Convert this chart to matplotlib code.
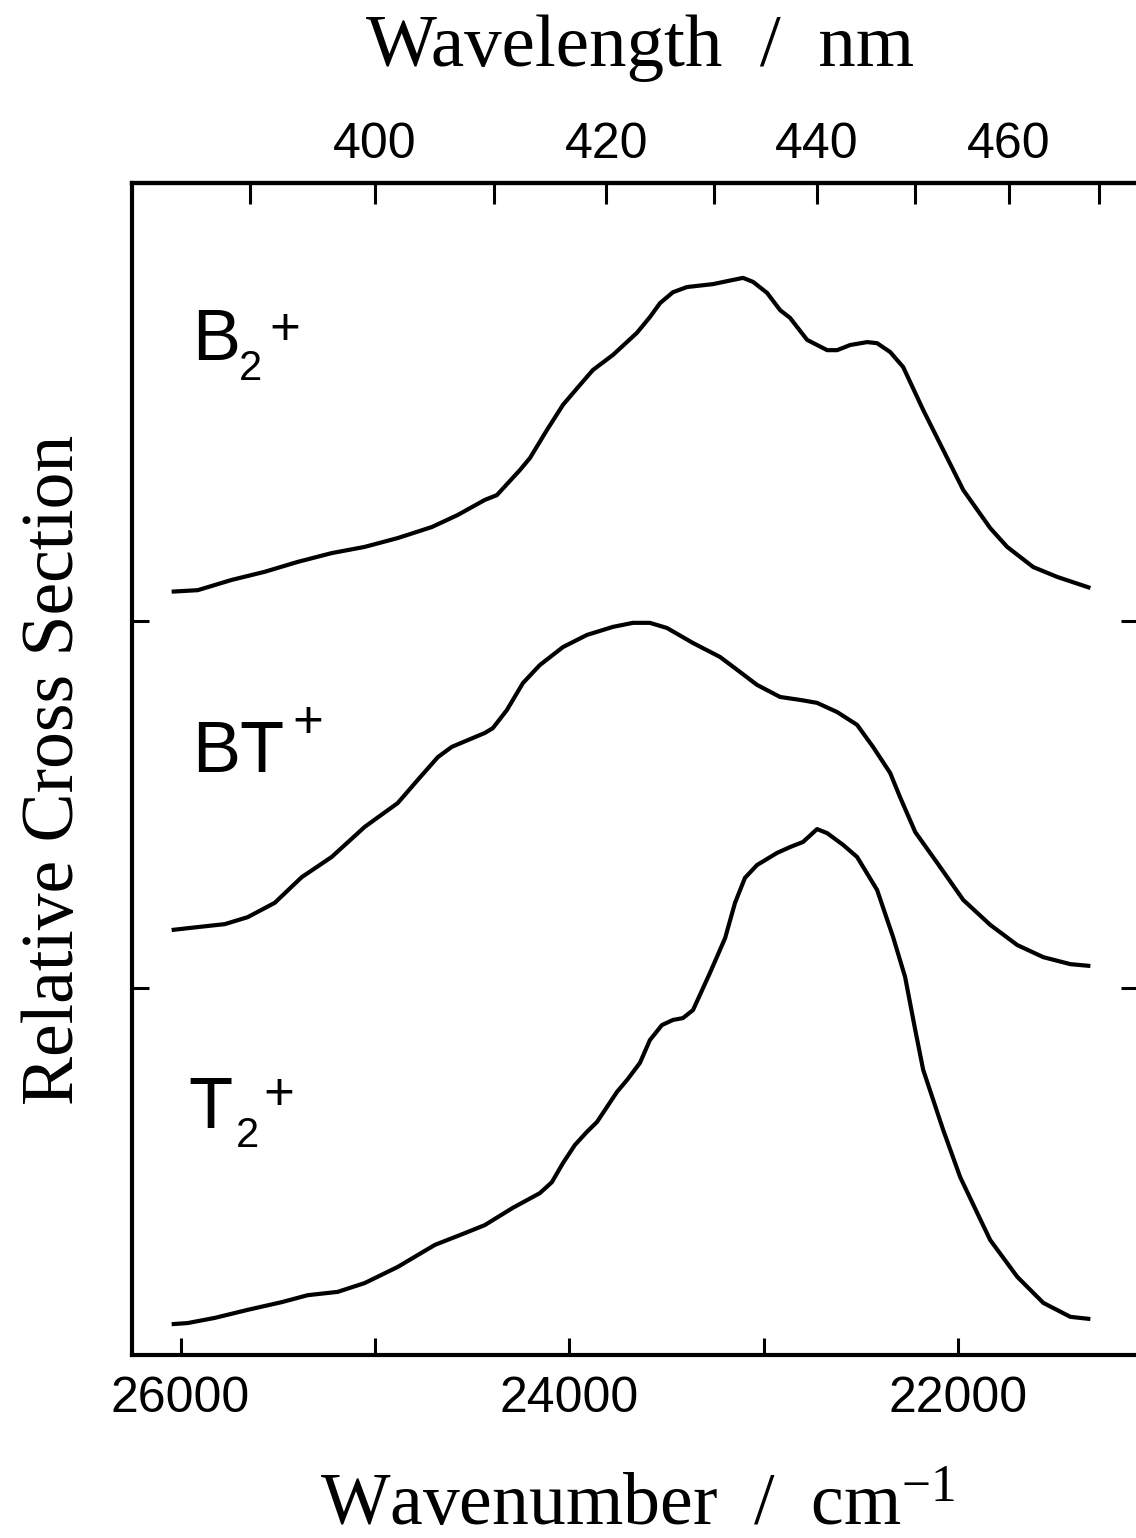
import numpy as np
import matplotlib
matplotlib.use('Agg')
import matplotlib.pyplot as plt
from matplotlib.ticker import FixedLocator, NullFormatter

# ---------------- data (wavenumber / cm-1, offset relative cross section) ----------------
b2_wn = [26046, 25912, 25737, 25568, 25398, 25223, 25053, 24883, 24708, 24574,
         24435, 24373, 24255, 24203, 24116, 24033, 23946, 23879, 23776, 23653,
         23586, 23534, 23467, 23395, 23261, 23189, 23107, 23055, 22983, 22916,
         22865, 22777, 22674, 22623, 22556, 22468, 22417, 22350, 22283, 22180,
         22077, 21974, 21835, 21748, 21614, 21490, 21320]
b2_y = [2.080, 2.084, 2.112, 2.134, 2.161, 2.185, 2.202, 2.226, 2.256, 2.289,
        2.330, 2.343, 2.411, 2.444, 2.520, 2.589, 2.643, 2.684, 2.725, 2.785,
        2.828, 2.866, 2.896, 2.910, 2.918, 2.926, 2.935, 2.924, 2.894, 2.847,
        2.826, 2.766, 2.738, 2.738, 2.752, 2.760, 2.757, 2.733, 2.692, 2.575,
        2.466, 2.357, 2.253, 2.202, 2.147, 2.120, 2.090]

bt_wn = [26046, 25912, 25773, 25655, 25516, 25377, 25223, 25053, 24883, 24780,
         24677, 24605, 24435, 24394, 24322, 24239, 24152, 24033, 23910, 23776,
         23673, 23586, 23498, 23364, 23225, 23122, 23035, 22916, 22813, 22726,
         22623, 22520, 22438, 22350, 22299, 22221, 22108, 21974, 21835, 21696,
         21562, 21423, 21320]
bt_y = [1.158, 1.166, 1.174, 1.193, 1.232, 1.302, 1.357, 1.439, 1.504, 1.567,
        1.629, 1.657, 1.695, 1.708, 1.757, 1.831, 1.880, 1.929, 1.962, 1.984,
        1.995, 1.995, 1.981, 1.940, 1.902, 1.861, 1.826, 1.793, 1.785, 1.777,
        1.752, 1.717, 1.657, 1.586, 1.520, 1.425, 1.341, 1.240, 1.172, 1.117,
        1.084, 1.065, 1.060]

t2_wn = [26046, 25964, 25825, 25655, 25480, 25346, 25192, 25053, 24883, 24692,
         24538, 24435, 24291, 24152, 24090, 24033, 23972, 23910, 23858, 23755,
         23704, 23637, 23586, 23524, 23467, 23416, 23364, 23277, 23199, 23148,
         23097, 23035, 22932, 22865, 22798, 22726, 22674, 22592, 22520, 22417,
         22335, 22273, 22221, 22180, 22077, 21990, 21902, 21835, 21696, 21562,
         21423, 21320]
t2_y = [0.084, 0.087, 0.101, 0.123, 0.144, 0.163, 0.172, 0.196, 0.240, 0.300,
        0.332, 0.354, 0.401, 0.441, 0.471, 0.523, 0.572, 0.608, 0.635, 0.717,
        0.749, 0.796, 0.858, 0.899, 0.913, 0.918, 0.940, 1.041, 1.136, 1.232,
        1.300, 1.335, 1.368, 1.384, 1.398, 1.433, 1.422, 1.390, 1.357, 1.267,
        1.139, 1.030, 0.886, 0.777, 0.613, 0.485, 0.387, 0.313, 0.213, 0.142,
        0.104, 0.098]

bottom_major = [26000, 24000, 22000]
bottom_minor = [25000, 23000]
top_major = [400, 420, 440, 460]
top_minor = [390, 410, 430, 450, 470]
y_ticks = [1, 2]

# ---------------- figure ----------------
plt.rcParams['font.family'] = ['Liberation Sans', 'DejaVu Sans']
plt.rcParams['mathtext.fontset'] = 'custom'
plt.rcParams['mathtext.rm'] = 'Liberation Serif'
plt.rcParams['mathtext.it'] = 'Liberation Serif:italic'
plt.rcParams['mathtext.default'] = 'regular'

W, H = 1136, 1538
fig = plt.figure(figsize=(W / 100, H / 100), dpi=100)
L, R, T, B = 132, 1138, 183, 1355
ax = fig.add_axes([L / W, (H - B) / H, (R - L) / W, (B - T) / H])

for wn, y in [(b2_wn, b2_y), (bt_wn, bt_y), (t2_wn, t2_y)]:
    ax.plot(wn, y, color='black', lw=3.0, solid_joinstyle='round',
            solid_capstyle='butt')

ax.set_xlim(26250, 21075)
ax.set_ylim(0, 3.1935)

for s in ax.spines.values():
    s.set_linewidth(3.0)

ax.xaxis.set_major_locator(FixedLocator(bottom_major))
ax.xaxis.set_minor_locator(FixedLocator(bottom_minor))
ax.xaxis.set_minor_formatter(NullFormatter())
ax.tick_params(axis='x', which='both', direction='in', top=False, bottom=True,
               length=12.5, width=2.2, labelsize=36, pad=15)
ax.set_yticks(y_ticks)
ax.tick_params(axis='y', which='both', direction='in', left=True, right=True,
               labelleft=False, length=12, width=2.2)


def wn2nm(x):
    x = np.asarray(x, dtype=float)
    x = np.where(np.abs(x) < 1e-9, 1e-9, x)
    return 1e7 / x


sec = ax.secondary_xaxis('top', functions=(wn2nm, wn2nm))
sec.xaxis.set_major_locator(FixedLocator(top_major))
sec.xaxis.set_minor_locator(FixedLocator(top_minor))
sec.xaxis.set_minor_formatter(NullFormatter())
sec.tick_params(axis='x', which='both', direction='in', length=15, width=2.2,
                labelsize=36, pad=11)
for s in sec.spines.values():
    s.set_linewidth(3.0)


def fx(px):
    return px / W


def fy(py):
    return 1 - py / H


# axis titles
fig.text(fx(640), fy(66), 'Wavelength  /  nm', ha='center', va='baseline',
         fontsize=54, family='Liberation Serif')
fig.text(fx(637), fy(1525), 'Wavenumber  /  cm$^{-1}$', ha='center',
         va='baseline', fontsize=53, family='Liberation Serif')
fig.text(fx(73), fy(770), 'Relative Cross Section', ha='center', va='baseline',
         rotation=90, rotation_mode='anchor', fontsize=53,
         family='Liberation Serif')

# series labels
big, small, plus = 52, 30, 38
fig.text(fx(192), fy(360), 'B', fontsize=big, ha='left', va='baseline')
fig.text(fx(239), fy(380), '2', fontsize=small, ha='left', va='baseline')
fig.text(fx(285), fy(345), '+', fontsize=plus, ha='center', va='baseline')

fig.text(fx(192), fy(772), 'BT', fontsize=big, ha='left', va='baseline')
fig.text(fx(308), fy(738), '+', fontsize=plus, ha='center', va='baseline')

fig.text(fx(188), fy(1128), 'T', fontsize=big, ha='left', va='baseline')
fig.text(fx(236), fy(1147), '2', fontsize=small, ha='left', va='baseline')
fig.text(fx(279), fy(1110), '+', fontsize=plus, ha='center', va='baseline')

fig.savefig('out.png', dpi=100)
